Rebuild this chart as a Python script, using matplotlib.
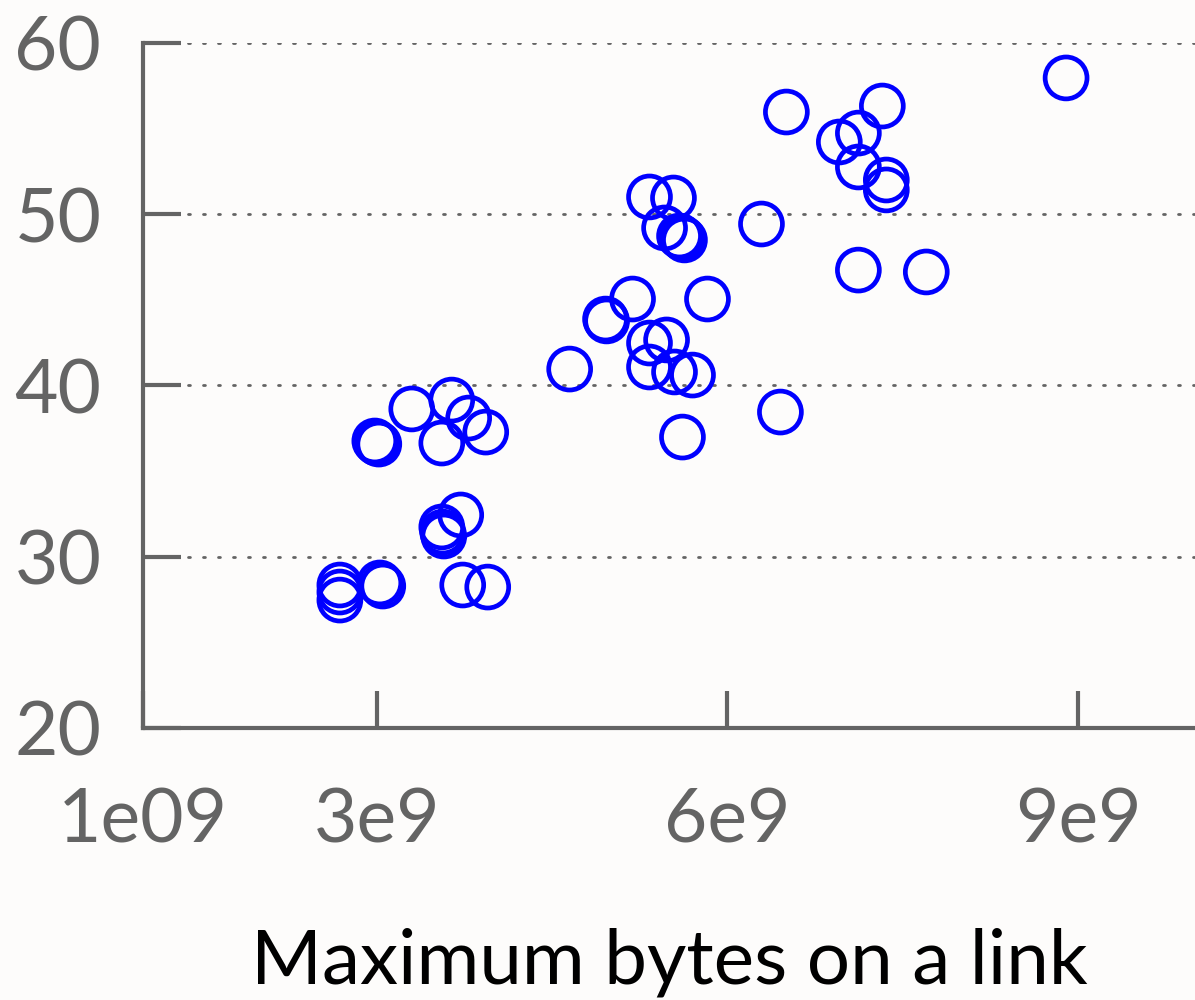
import numpy as np
import matplotlib.pyplot as plt

# maximum bytes on a link (x) vs. value (y)
max_bytes = np.array([
    8.897, 6.504, 7.325, 6.957, 7.120, 7.120, 7.359, 7.359, 6.291, 7.120,
    7.701, 5.333, 5.538, 5.462, 5.590, 5.615, 5.632, 5.188, 5.829, 4.957,
    4.966, 4.650, 5.333, 5.479, 5.333, 5.547, 5.701, 5.615, 6.453, 3.299,
    3.641, 3.786, 3.932, 3.556, 2.983, 3.000, 3.017, 3.718, 3.556, 3.564,
    3.573, 3.735, 3.949, 3.026, 3.051, 2.684, 2.684, 2.684]) * 1e9
values = np.array([
    57.96, 55.97, 56.32, 54.22, 54.74, 52.76, 52.00, 51.42, 49.43, 46.74,
    46.63, 51.01, 50.95, 49.20, 48.73, 48.61, 48.50, 45.05, 45.05, 43.88,
    43.77, 40.96, 42.48, 42.66, 41.08, 40.79, 40.61, 36.99, 38.45, 38.63,
    39.15, 38.10, 37.28, 36.64, 36.76, 36.64, 36.58, 32.44, 31.74, 31.44,
    31.21, 28.35, 28.23, 28.47, 28.29, 28.35, 27.94, 27.47])

x_ticks = [1e9, 3e9, 6e9, 9e9]
x_tick_labels = ['1e09', '3e9', '6e9', '9e9']
y_ticks = [20, 30, 40, 50, 60]

plt.rcParams['font.family'] = ['Lato', 'DejaVu Sans']
grey = '#646464'
bg = '#fdfcfb'

fig = plt.figure(figsize=(11.95, 10), dpi=100, facecolor=bg)
ax = fig.add_axes([0.1197, 0.272, 0.8803, 0.685])
ax.set_facecolor(bg)

ax.scatter(max_bytes, values, s=910, facecolors='none', edgecolors='#0000ff',
           linewidths=3.4, zorder=3)

ax.set_xlim(1e9, 1e10)
ax.set_ylim(20, 60)
ax.set_xticks(x_ticks)
ax.set_xticklabels(x_tick_labels)
ax.set_yticks(y_ticks)

for g in y_ticks[1:]:
    ax.axhline(g, color=grey, linestyle=(0, (0.7, 4.7)), linewidth=2,
               dash_capstyle='round', zorder=1)

for s in ['top', 'right']:
    ax.spines[s].set_visible(False)
for s in ['left', 'bottom']:
    ax.spines[s].set_color(grey)
    ax.spines[s].set_linewidth(3)

ax.tick_params(axis='both', direction='in', length=27, width=3, color=grey,
               labelcolor=grey, labelsize=54)
ax.tick_params(axis='y', pad=30)
ax.tick_params(axis='x', pad=42)

ax.set_xlabel('Maximum bytes on a link', fontsize=55, color='black', labelpad=52)

fig.savefig('out.png', dpi=100, facecolor=bg)
